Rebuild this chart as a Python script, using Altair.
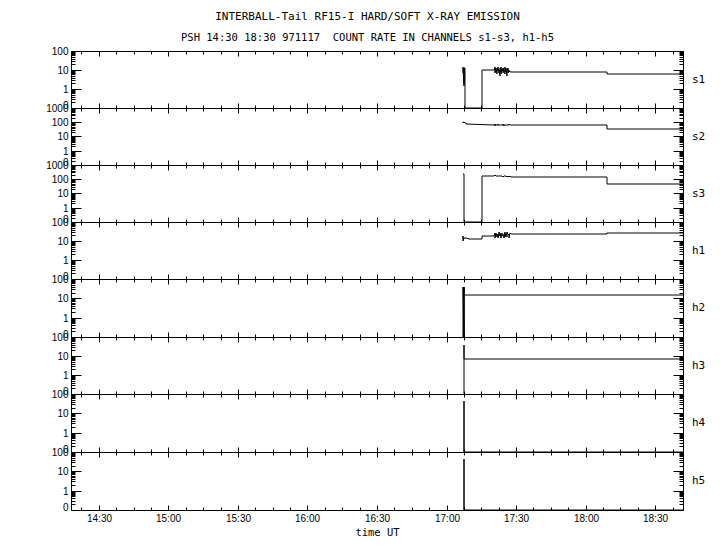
import altair as alt
import pandas as pd

# Time axis: minutes after midnight UT (14:18 .. 18:42)
X_DOMAIN = [858, 1122]
X_MAJOR = [870, 900, 930, 960, 990, 1020, 1050, 1080, 1110]
X_MINOR = [862.5, 877.5, 885, 892.5, 907.5, 915, 922.5, 937.5, 945, 952.5,
           967.5, 975, 982.5, 997.5, 1005, 1012.5, 1027.5, 1035, 1042.5,
           1057.5, 1065, 1072.5, 1087.5, 1095, 1102.5, 1117.5]

channels = ["s1", "s2", "s3", "h1", "h2", "h3", "h4", "h5"]
y_top = {"s1": 100, "s2": 1000, "s3": 1000, "h1": 100,
         "h2": 100, "h3": 100, "h4": 100, "h5": 100}
panel_heights = [57, 57, 57, 57, 58, 57, 58, 58]

# ---- count rates (0 = no counts) ----
s1_t = [1027.1, 1027.3, 1027.4, 1027.5, 1027.6, 1027.7, 1027.8, 1027.8, 1035.3, 1035.3,
        1040.5, 1040.7, 1040.9, 1041.1, 1041.3, 1041.5, 1041.7, 1041.9, 1042.1, 1042.3,
        1042.5, 1042.7, 1042.9, 1043.1, 1043.3, 1043.5, 1043.7, 1043.9, 1044.1, 1044.3,
        1044.5, 1044.7, 1044.9, 1045.1, 1045.3, 1045.5, 1045.7, 1045.9, 1046.1, 1046.3,
        1046.5, 1046.7, 1046.9, 1047.1, 1047.3, 1047.5, 1047.7, 1089.2, 1089.2, 1122]
s1_v = [7, 14, 1.5, 13, 2, 12, 12, 0, 0, 9.6,
        9.6, 12, 7, 14, 8, 11, 6, 13, 9, 15,
        7, 10, 5, 12, 8, 14, 6, 11, 9, 13,
        7, 12, 10, 6, 14, 8, 11, 5, 13, 9,
        12, 7, 10, 8, 9, 8, 7.6, 7.6, 6.4, 6.4]

s2_t = [1027.0, 1027.3, 1028.2, 1028.4, 1040.6, 1040.7, 1040.8, 1040.9, 1042.1, 1042.2,
        1042.3, 1042.4, 1044.4, 1044.5, 1044.6, 1044.7, 1047.0, 1047.1, 1047.2, 1047.3,
        1089.2, 1089.2, 1122]
s2_v = [95, 100, 90, 70, 68, 80, 58, 68, 68, 78,
        60, 68, 68, 80, 58, 68, 68, 76, 62, 68,
        68, 32, 32]

s3_t = [1027.0, 1027.6, 1027.6, 1035.3, 1035.3, 1040.5, 1040.8, 1041.2, 1041.6, 1042.0,
        1042.4, 1042.8, 1043.2, 1043.6, 1044.0, 1044.4, 1044.8, 1045.2, 1045.6, 1046.0,
        1046.4, 1046.8, 1047.2, 1047.7, 1089.2, 1089.2, 1122]
s3_v = [222, 222, 0, 0, 169, 169, 185, 160, 180, 158,
        178, 162, 182, 160, 176, 155, 180, 158, 175, 152,
        172, 150, 165, 144, 144, 44, 44]

h1_t = [1027.0, 1027.1, 1027.2, 1027.3, 1027.4, 1028.5, 1029.5, 1035.3, 1035.3, 1040.5,
        1040.8, 1041.1, 1041.4, 1041.7, 1042.0, 1042.3, 1042.6, 1042.9, 1043.2, 1043.5,
        1043.8, 1044.1, 1044.4, 1044.7, 1045.0, 1045.3, 1045.6, 1045.9, 1046.2, 1046.5,
        1046.8, 1047.1, 1047.4, 1047.7, 1089.2, 1089.2, 1122]
h1_v = [13, 13.5, 18, 10.5, 14, 14, 12.3, 12.3, 17.7, 17.7,
        26, 15, 28, 17, 24, 14, 30, 18, 25, 15,
        27, 19, 23, 14, 29, 17, 26, 16, 30, 20,
        24, 15, 28, 23.3, 23.3, 26.3, 26.3]

h2_t = [1027.3, 1027.3, 1027.4, 1027.45, 1027.5, 1027.55, 1027.6, 1122]
h2_v = [0, 40, 0, 38, 0, 40, 14.4, 14.4]

h3_t = [1027.5, 1027.5, 1027.6, 1122]
h3_v = [0, 38, 6.7, 6.7]

h4_t = [1027.5, 1027.5, 1027.6, 1122]
h4_v = [0, 43, 0, 0]

h5_t = [1027.5, 1027.5, 1027.6, 1122]
h5_v = [0, 43, 0, 0]

series = {"s1": (s1_t, s1_v), "s2": (s2_t, s2_v), "s3": (s3_t, s3_v),
          "h1": (h1_t, h1_v), "h2": (h2_t, h2_v), "h3": (h3_t, h3_v),
          "h4": (h4_t, h4_v), "h5": (h5_t, h5_v)}

FONT = "DejaVu Sans Mono"
WIDTH = 612
X_LABEL = "floor(datum.value/60) + ':' + (datum.value % 60 < 10 ? '0' : '') + (datum.value % 60)"
Y_LABEL = "datum.value < 0.5 ? '0' : format(datum.value, 'd')"


def y_values(top):
    major = [0.1, 1, 10, 100] + ([1000] if top >= 1000 else [])
    minor = []
    dec = 0.1
    while dec < top - 1e-9:
        minor += [round(dec * k, 6) for k in range(2, 10)]
        dec *= 10
    return major, minor


def panel(ch, h, last):
    t, v = series[ch]
    df = pd.DataFrame({"t": t, "v": v})
    df["pv"] = df["v"].clip(lower=0.1)
    df["i"] = range(len(df))
    top = y_top[ch]
    ymaj, ymin = y_values(top)
    xs = alt.Scale(domain=X_DOMAIN, nice=False, zero=False, round=True)
    ys = alt.Scale(type="log", domain=[0.1, top], nice=False, round=True)
    base = alt.Chart(df)

    def layer(xaxis, yaxis, opacity, xtitle=None):
        return base.mark_line(color="black", strokeWidth=1, opacity=opacity).encode(
            x=alt.X("t:Q", scale=xs, axis=xaxis, title=xtitle),
            y=alt.Y("pv:Q", scale=ys, axis=yaxis, title=None),
            order=alt.Order("i:Q"),
        )

    common = dict(domain=False, grid=False, labelOverlap=False, labelFlush=False,
                  tickColor="black", tickWidth=1)
    frame = dict(domain=True, domainColor="black", domainWidth=1, ticks=False,
                 labels=False, grid=False, offset=0)
    xa_bot = alt.Axis(orient="bottom", values=X_MAJOR, offset=-5, tickSize=5,
                      labels=last, labelExpr=X_LABEL, labelPadding=3,
                      titlePadding=4, titleFontWeight="normal", titleFont=FONT,
                      titleFontSize=10.5, titleColor="black", **common)
    xa_bot_min = alt.Axis(orient="bottom", values=X_MINOR, offset=-3, tickSize=3,
                          labels=False, **common)
    xa_top = alt.Axis(orient="top", values=X_MAJOR, offset=-5, tickSize=5,
                      labels=False, **common)
    xa_top_min = alt.Axis(orient="top", values=X_MINOR, offset=-3, tickSize=3,
                          labels=False, **common)
    ya_left = alt.Axis(orient="left", values=ymaj, offset=-10, tickSize=10,
                       labelExpr=Y_LABEL, labelPadding=3,
                       labelBaseline={"condition": {"test": "datum.value < 0.5",
                                                    "value": "alphabetic"},
                                      "value": "middle"},
                       **common)
    ya_left_min = alt.Axis(orient="left", values=ymin, offset=-4, tickSize=4,
                           labels=False, **common)
    ya_right = alt.Axis(orient="right", values=ymaj, offset=-10, tickSize=10,
                        labels=False, **common)
    ya_right_min = alt.Axis(orient="right", values=ymin, offset=-4, tickSize=4,
                            labels=False, **common)
    xa_frame_b = alt.Axis(orient="bottom", **frame)
    xa_frame_t = alt.Axis(orient="top", **frame)
    ya_frame_l = alt.Axis(orient="left", **frame)
    ya_frame_r = alt.Axis(orient="right", **frame)

    l1 = layer(xa_bot, ya_left, 1, "time UT" if last else None)
    l2 = layer(xa_bot_min, ya_left_min, 0)
    l3 = layer(xa_top, ya_right, 0)
    l4 = layer(xa_top_min, ya_right_min, 0)
    l5 = layer(xa_frame_b, ya_frame_l, 0)
    l6 = layer(xa_frame_t, ya_frame_r, 0)
    lab = alt.Chart(pd.DataFrame({"lab": [ch]})).mark_text(
        font=FONT, fontSize=11, align="left", baseline="middle", color="black"
    ).encode(x=alt.value(WIDTH + 9), y=alt.value(h / 2), text="lab:N")

    return alt.layer(l1, l2, l3, l4, l5, l6, lab).resolve_axis(
        x="independent", y="independent"
    ).properties(width=WIDTH, height=h)


panels = [panel(ch, h, i == len(channels) - 1)
          for i, (ch, h) in enumerate(zip(channels, panel_heights))]

chart = alt.vconcat(*panels, spacing=0, bounds="flush").properties(
    title=alt.TitleParams(
        text="INTERBALL-Tail RF15-I HARD/SOFT X-RAY EMISSION",
        subtitle="PSH 14:30 18:30 971117 \u00a0COUNT RATE IN CHANNELS s1-s3, h1-h5",
        font=FONT, fontSize=11, fontWeight="normal", color="black",
        subtitleFont=FONT, subtitleFontSize=10.5, subtitleColor="black",
        subtitlePadding=11, offset=2, anchor="middle", dx=-8,
    ),
    padding={"left": 37, "top": 3, "right": 5, "bottom": 5},
).configure_view(
    strokeWidth=0
).configure_axis(
    labelFont=FONT, labelFontSize=10.5, labelColor="black",
    tickColor="black", tickWidth=1,
    titleFont=FONT, titleFontSize=10.5, titleFontWeight="normal", titleColor="black",
).configure(background="white")

chart.save("out.html", embed_options={"renderer": "svg", "actions": False})
